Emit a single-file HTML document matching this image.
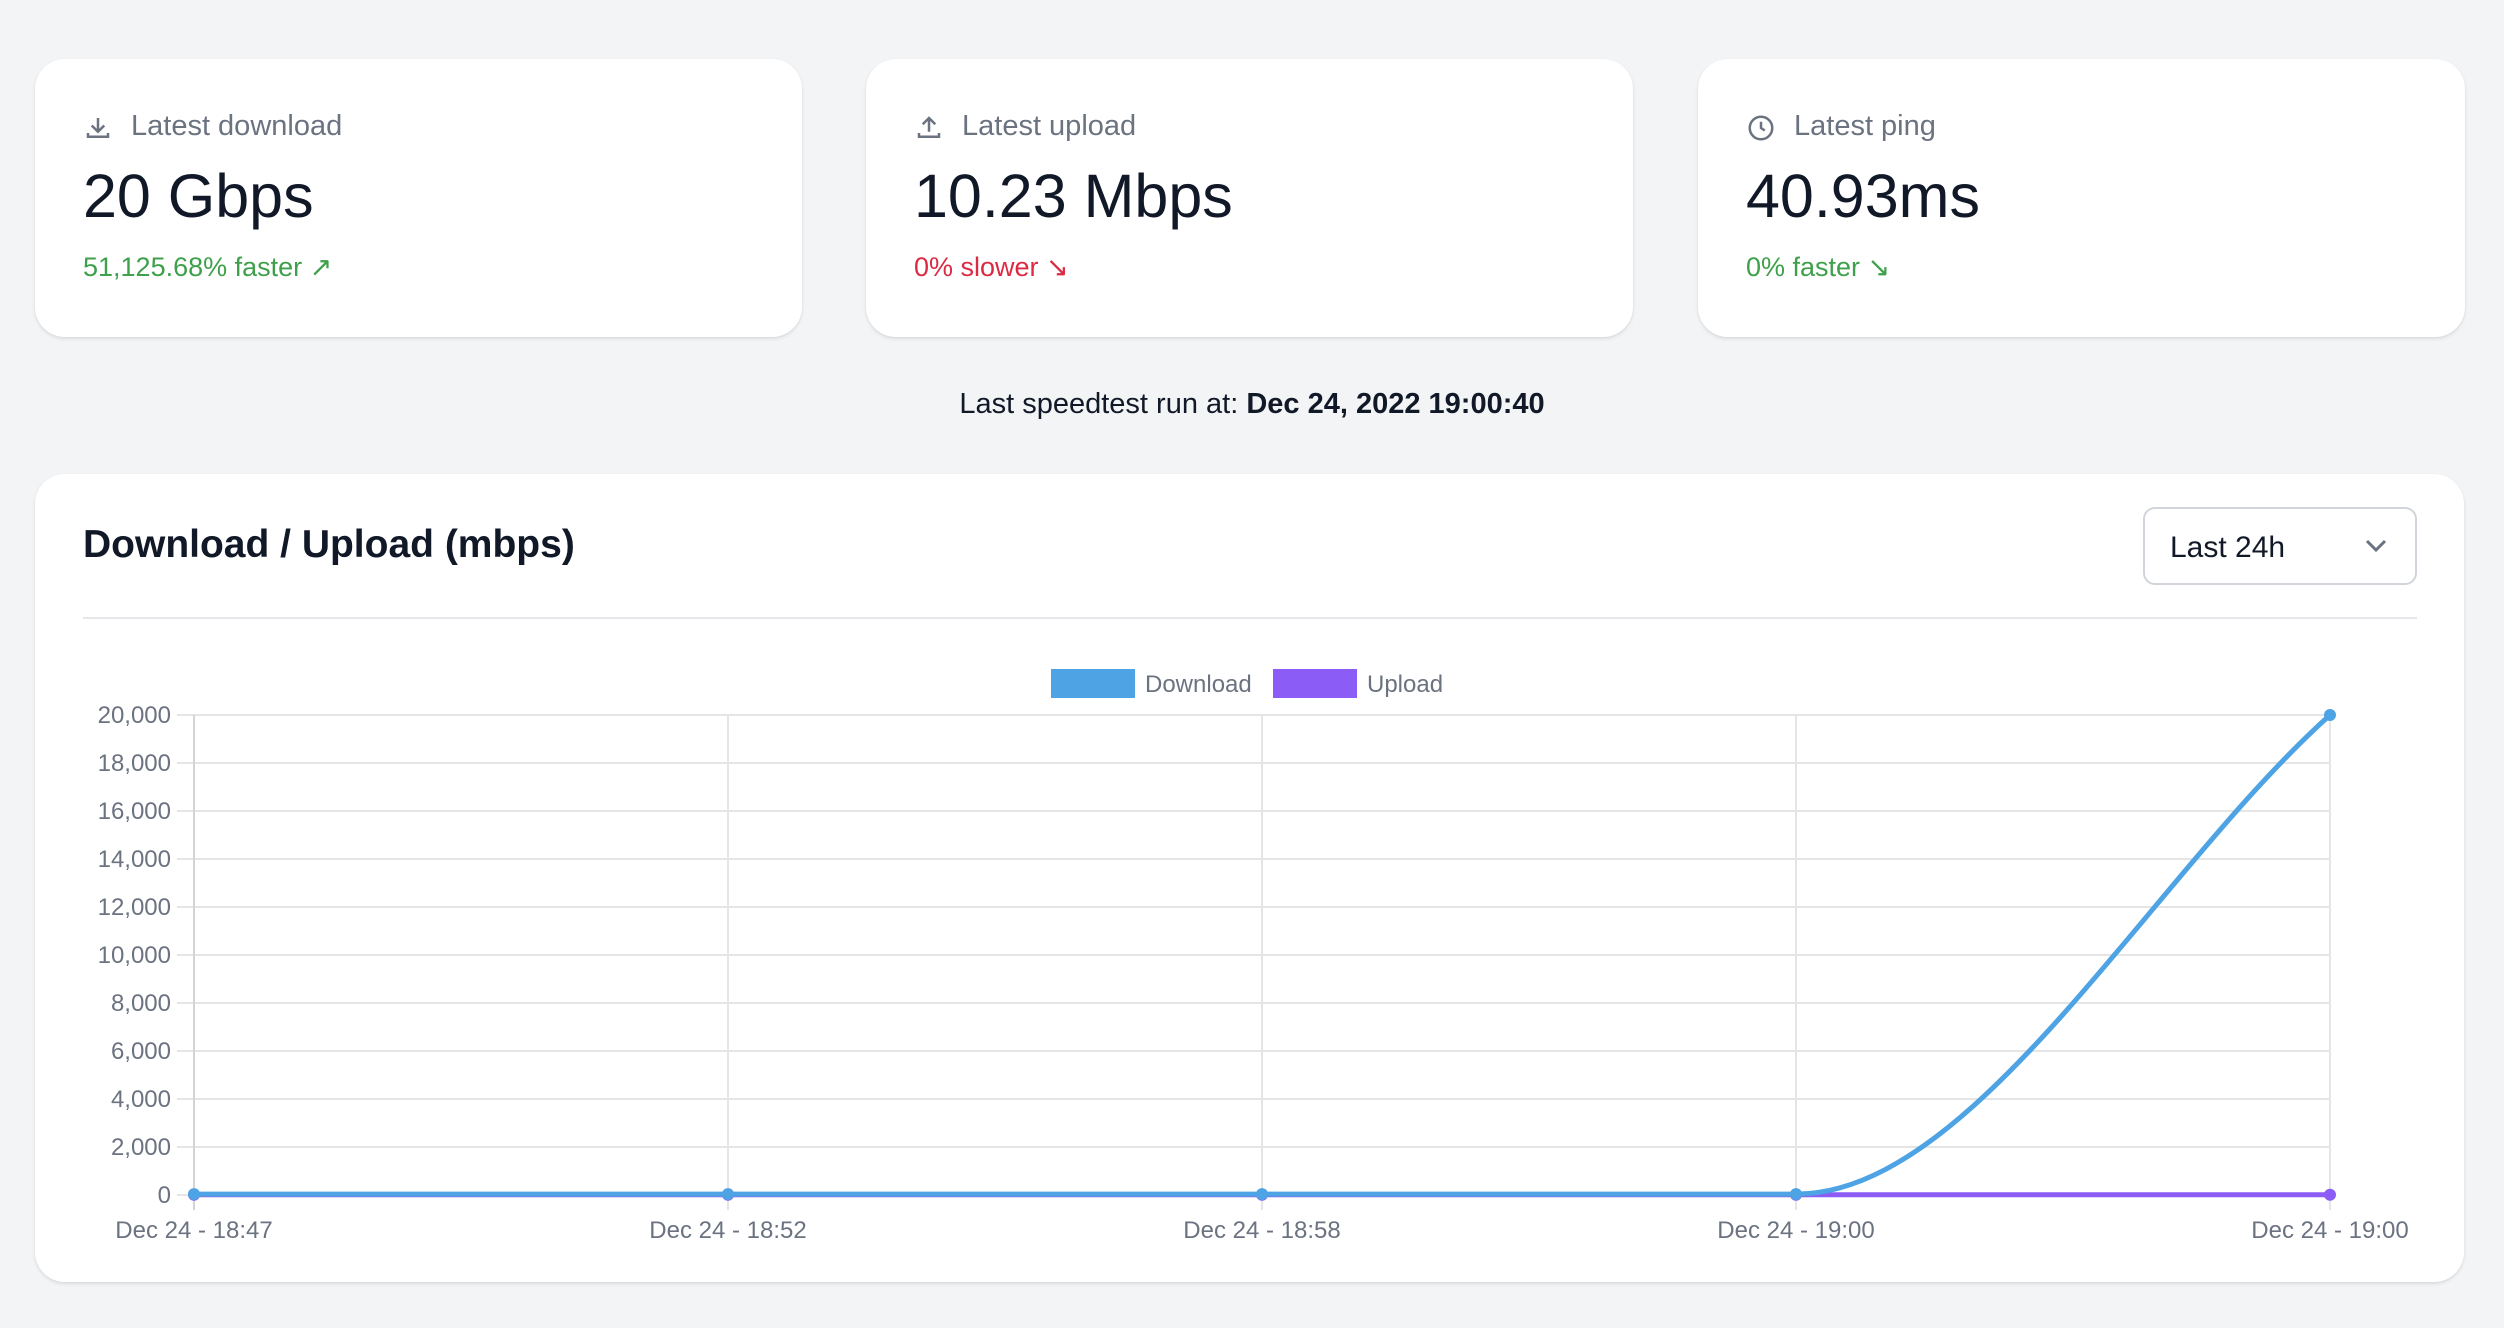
<!DOCTYPE html>
<html><head><meta charset="utf-8">
<style>
*{box-sizing:border-box;margin:0;padding:0}
body{width:2504px;height:1328px;background:#f3f4f6;font-family:"Liberation Sans",sans-serif;position:relative;overflow:hidden;color:#111827}
.card{position:absolute;background:#fff;border-radius:30px;box-shadow:0 2px 4px rgba(0,0,0,0.08),0 1px 2px rgba(0,0,0,0.05)}
.stat{top:59px;height:278px;width:767px}
.lbl{position:absolute;left:96px;top:51px;font-size:29px;color:#6b7280}
.ico{position:absolute;left:48px;top:54px;width:30px;height:30px}
.val{position:absolute;left:48px;top:102px;font-size:61px;color:#111827}
.chg{position:absolute;left:48px;top:193px;font-size:27px}
.abs{position:absolute}
</style></head><body>
<div class="card stat" style="left:35px">
<svg class="ico" viewBox="0 0 24 24" fill="none" stroke="#6b7280" stroke-width="2"><path d="M4 16v3h16v-3M12 4v11M7 10l5 5 5-5"/></svg>
<div class="lbl">Latest download</div>
<div class="val">20 Gbps</div>
<div class="chg" style="color:#3fa04b">51,125.68% faster ↗</div>
</div>
<div class="card stat" style="left:866px">
<svg class="ico" viewBox="0 0 24 24" fill="none" stroke="#6b7280" stroke-width="2"><path d="M4 16v3h16v-3M12 15V4M7 9l5-5 5 5"/></svg>
<div class="lbl">Latest upload</div>
<div class="val">10.23 Mbps</div>
<div class="chg" style="color:#dc2a43">0% slower ↘</div>
</div>
<div class="card stat" style="left:1698px">
<svg class="ico" viewBox="0 0 24 24" fill="none" stroke="#6b7280" stroke-width="2"><circle cx="12" cy="12" r="9"/><path d="M12 7v5l3 2"/></svg>
<div class="lbl">Latest ping</div>
<div class="val">40.93ms</div>
<div class="chg" style="color:#3fa04b">0% faster ↘</div>
</div>
<div class="abs" style="left:0;width:2504px;top:388px;text-align:center;font-size:29px;color:#111827">Last speedtest run at: <b>Dec 24, 2022 19:00:40</b></div>

<div class="card" style="left:35px;top:474px;width:2429px;height:808px"></div>
<div class="abs" style="left:83px;top:523px;font-size:39px;font-weight:bold">Download / Upload (mbps)</div>
<div class="abs" style="left:2143px;top:507px;width:274px;height:78px;border:2px solid #d1d5db;border-radius:12px;background:#fff">
<span class="abs" style="left:25px;top:22px;font-size:30px;color:#111827">Last 24h</span>
<svg class="abs" style="left:218px;top:28px" width="26" height="18" viewBox="0 0 26 18"><path d="M4 4l9 9 9-9" fill="none" stroke="#6b7280" stroke-width="3"/></svg>
</div>
<div class="abs" style="left:83px;top:617px;width:2334px;height:2px;background:#e5e7eb"></div>

<svg id="chart" class="abs" style="left:0;top:0" width="2504" height="1328"></svg>
<script>
const categories=["Dec 24 - 18:47","Dec 24 - 18:52","Dec 24 - 18:58","Dec 24 - 19:00","Dec 24 - 19:00"];
const downloadValues=[39,39,39,39,20000];
const uploadValues=[10,10,10,10.23,10.23];
const yTicks=[0,2000,4000,6000,8000,10000,12000,14000,16000,18000,20000];
const seriesNames=["Download","Upload"];

const NS="http://www.w3.org/2000/svg";
const svg=document.getElementById('chart');
const X0=194,X1=2330,Y0=1195,Y1=715,YMAX=20000;
const xs=i=>X0+(X1-X0)*i/(categories.length-1);
const ys=v=>Y0-(Y0-Y1)*v/YMAX;
function mk(tag,attrs){const e=document.createElementNS(NS,tag);for(const k in attrs)e.setAttribute(k,attrs[k]);svg.appendChild(e);return e;}
const fmt=v=>v.toLocaleString('en-US');
yTicks.forEach(t=>{
 const g=mk('line',{x1:177,x2:X1,y1:ys(t),y2:ys(t),stroke:'#e5e5e5','stroke-width':2});
 
 
 const tx=mk('text',{x:171,y:ys(t)+8,'text-anchor':'end','font-size':24,fill:'#6b7280','font-family':'Liberation Sans, sans-serif'});
 tx.textContent=fmt(t);
 
 
});
categories.forEach((c,i)=>{
 const g=mk('line',{x1:xs(i),x2:xs(i),y1:Y1,y2:Y0+15,stroke:i==0?'#d4d4d4':'#e5e5e5','stroke-width':2});
 
 
 const tx=mk('text',{x:xs(i),y:1238,'text-anchor':'middle','font-size':24,fill:'#6b7280','font-family':'Liberation Sans, sans-serif'});
 tx.textContent=c;
 
 
});
function monotonePath(vals){
 const n=vals.length,px=vals.map((v,i)=>xs(i)),py=vals.map(ys);
 const d=[],m=[];
 for(let i=0;i<n-1;i++)d.push((py[i+1]-py[i])/(px[i+1]-px[i]));
 for(let i=0;i<n;i++){
  if(i==0)m.push(d[0]);else if(i==n-1)m.push(d[n-2]);
  else if(d[i-1]==0||d[i]==0||Math.sign(d[i-1])!=Math.sign(d[i]))m.push(0);
  else m.push((d[i-1]+d[i])/2);
 }
 for(let i=0;i<n-1;i++){
  if(d[i]==0){m[i]=0;m[i+1]=0;continue;}
  const a=m[i]/d[i],b=m[i+1]/d[i],s=a*a+b*b;
  if(s>9){const t=3/Math.sqrt(s);m[i]=t*a*d[i];m[i+1]=t*b*d[i];}
 }
 let p='M'+px[0]+','+py[0];
 for(let i=0;i<n-1;i++){
  const dx=(px[i+1]-px[i])/3;
  p+=' C'+(px[i]+dx)+','+(py[i]+m[i]*dx)+' '+(px[i+1]-dx)+','+(py[i+1]-m[i+1]*dx)+' '+px[i+1]+','+py[i+1];
 }
 return p;
}
const series=[[uploadValues,'#8b5cf6','upload'],[downloadValues,'#4da3e3','download']];
series.forEach(([vals,col,nm])=>{
 const l=mk('path',{d:monotonePath(vals),fill:'none',stroke:col,'stroke-width':5});
 
 
 vals.forEach((v,i)=>{
  const c=mk('circle',{cx:xs(i),cy:ys(v),r:6,fill:col});
  
  
 });
});
const legend=[[1051,'#4da3e3',seriesNames[0]],[1273,'#8b5cf6',seriesNames[1]]];
legend.forEach(([x,col,name])=>{
 const r=mk('rect',{x:x,y:669,width:84,height:29,fill:col});
 
 
 const t=mk('text',{x:x+94,y:692,'font-size':24,fill:'#6b7280','font-family':'Liberation Sans, sans-serif'});
 t.textContent=name;
 
 
});
</script>
</body></html>
